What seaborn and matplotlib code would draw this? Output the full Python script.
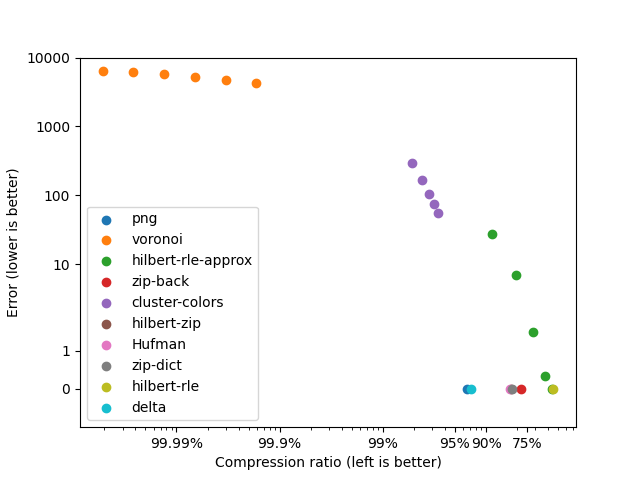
import matplotlib
matplotlib.use("Agg")
import matplotlib.pyplot as plt
import matplotlib.ticker as mticker
import seaborn as sns
import pandas as pd

# Series data: (compression ratio = compressed/original, error)
png_x = [0.065]
png_y = [0]
voronoi_x = [1.92e-5, 3.77e-5, 7.5e-5, 1.5e-4, 3.0e-4, 5.9e-4]
voronoi_y = [6480, 6210, 5820, 5260, 4760, 4300]
hra_x = [0.115, 0.195, 0.288, 0.376, 0.434]
hra_y = [27.5, 7.0, 1.5, 0.33, 0]
zipback_x = [0.22]
zipback_y = [0]
cluster_x = [0.0192, 0.0241, 0.0282, 0.0315, 0.0345]
cluster_y = [296, 168, 106, 76, 55]
hzip_x = [0.175]
hzip_y = [0]
hufman_x = [0.171]
hufman_y = [0]
zipdict_x = [0.180]
zipdict_y = [0]
hrle_x = [0.45]
hrle_y = [0]
delta_x = [0.0714]
delta_y = [0]

series_names = ["png", "voronoi", "hilbert-rle-approx", "zip-back", "cluster-colors",
                "hilbert-zip", "Hufman", "zip-dict", "hilbert-rle", "delta"]
series_x = [png_x, voronoi_x, hra_x, zipback_x, cluster_x, hzip_x, hufman_x, zipdict_x, hrle_x, delta_x]
series_y = [png_y, voronoi_y, hra_y, zipback_y, cluster_y, hzip_y, hufman_y, zipdict_y, hrle_y, delta_y]

x_ticks = [1e-4, 1e-3, 1e-2, 0.05, 0.1, 0.25]
x_labels = ["99.99%", "99.9%", "99%", "95%", "90%", "75%"]
y_ticks = [0, 1, 10, 100, 1000, 10000]
y_labels = ["0", "1", "10", "100", "1000", "10000"]

palette = sns.color_palette("tab10", 10)

fig, ax = plt.subplots(figsize=(6.4, 4.8), dpi=100)
for name, xs, ys, col in zip(series_names, series_x, series_y, palette):
    df = pd.DataFrame({"x": xs, "y": ys})
    sns.scatterplot(data=df, x="x", y="y", ax=ax, color=col, label=name,
                    s=36, linewidth=1, edgecolor=col, legend=False)

ax.set_xscale("log")
ax.set_yscale("symlog", linthresh=2)
ax.xaxis.set_major_locator(mticker.FixedLocator(x_ticks))
ax.xaxis.set_major_formatter(mticker.FixedFormatter(x_labels))
ax.xaxis.set_minor_formatter(mticker.NullFormatter())
ax.yaxis.set_major_locator(mticker.FixedLocator(y_ticks))
ax.yaxis.set_major_formatter(mticker.FixedFormatter(y_labels))
ax.yaxis.set_minor_locator(mticker.NullLocator())
ax.set_ylim(-1, 10000)
ax.set_xlabel("Compression ratio (left is better)")
ax.set_ylabel("Error (lower is better)")

handles, labels = ax.get_legend_handles_labels()
ax.legend(handles, labels, loc="lower left")

fig.savefig("out.png", dpi=100)
